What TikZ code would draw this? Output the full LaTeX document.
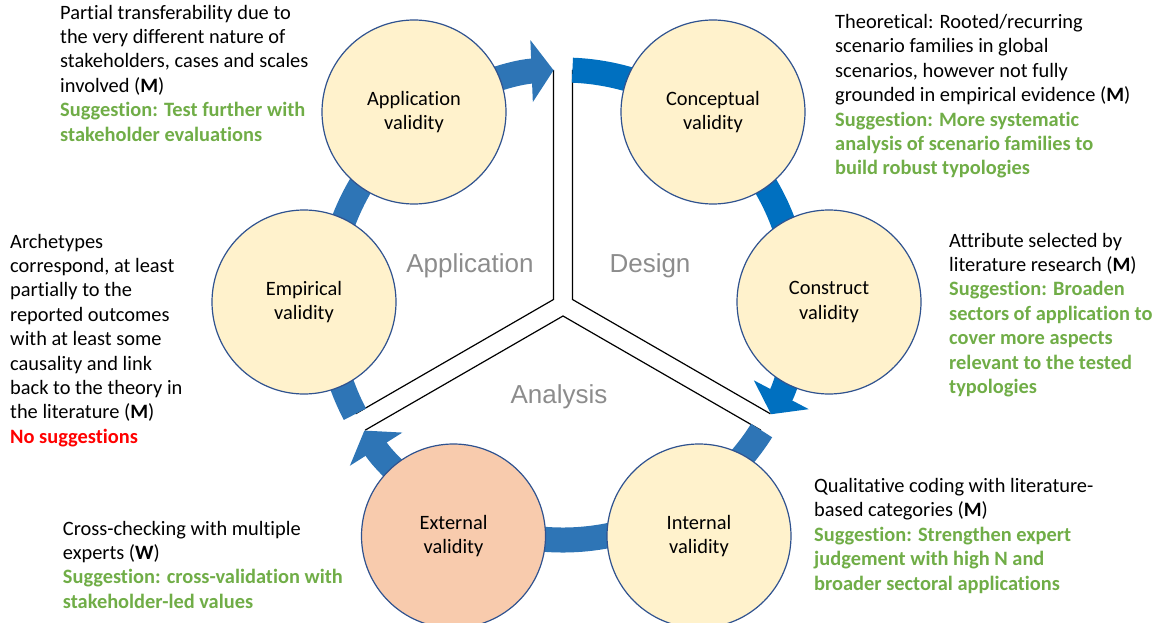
\documentclass[tikz,border=0pt]{standalone}
\usepackage{fontspec}
\setmainfont{Carlito}[Ligatures=NoCommon]
\newfontfamily\secfont{Liberation Sans}
\usetikzlibrary{arrows.meta}
\definecolor{anelA}{HTML}{2E75B6}
\definecolor{anelB}{HTML}{0070C0}
\definecolor{creme}{HTML}{FFF2CC}
\definecolor{salmao}{HTML}{F8CBAD}
\definecolor{contorno}{HTML}{2F528F}
\definecolor{verde}{HTML}{70AD47}
\definecolor{cinza}{HTML}{8C8C8C}
\newcommand{\sug}{\color{verde}\bfseries}
\tikzset{
  validade/.style={circle, draw=contorno, line width=1.2pt, fill=creme,
    minimum size=184pt, inner sep=0pt, align=center,
    font=\fontsize{20.4}{24.4}\selectfont},
  nota/.style={anchor=north west, inner sep=0pt, align=left,
    font=\fontsize{20.4}{24.4}\selectfont},
  setor/.style={anchor=base, text=cinza, font=\secfont\fontsize{26}{30}\selectfont},
  anel/.style={line width=25pt},
  ponta/.style={-{Triangle[width=61pt,length=22pt]}},
  braco/.style={line width=1.2pt, line join=miter},
}
\begin{document}
\begin{tikzpicture}[x=1pt,y=-1pt]
  \useasboundingbox (0,0) rectangle (1163,623);
  \coordinate (ring) at (563,305);                 % centro do anel
  % Y que separa os setores
  \begin{scope}[shift={(ring)}]
    \draw[braco] (-9.5,-235) -- (-9.5,-5.5) -- (-207.4,108.8);  % lado esquerdo
    \draw[braco] (9.5,-235) -- (9.5,-5.5) -- (207.4,108.8);     % lado direito
    \draw[braco] (-197.9,125.2) -- (0,11) -- (197.9,125.2);     % lado de baixo
  \end{scope}
  % anel em tres arcos com seta
  \draw[anel, anelB, ponta] (ring) ++(-87.7:235) arc[start angle=-87.7, end angle=27.7, radius=235];
  \draw[anel, anelA, ponta] (ring) ++(32.3:235) arc[start angle=32.3, end angle=147.7, radius=235];
  \draw[anel, anelA, ponta] (ring) ++(152.3:235) arc[start angle=152.3, end angle=267.7, radius=235];
  % circulos
  \node[validade] (aplic) at (414,112) {Application\\validity};
  \node[validade] (conc) at (713,112) {Conceptual\\validity};
  \node[validade] (constr) at (829,302) {Construct\\validity};
  \node[validade] (intern) at (699,536) {Internal\\validity};
  \node[validade, fill=salmao] (extern) at (453.5,536) {External\\validity};
  \node[validade] (empir) at (304,302) {Empirical\\validity};
  % nomes dos setores
  \node[setor] (s-aplic) at (470,272) {Application};
  \node[setor] (s-design) at (650,272) {Design};
  \node[setor] (s-anal) at (559,403) {Analysis};
  % comentarios
  \node[nota] (n-aplic) at (60,1.9) {\strut Partial transferability due to\\the very different nature of\\stakeholders, cases and scales\\involved (\textbf{M})\\
    {\sug Suggestion: Test further with}\\{\sug stakeholder evaluations}};
  \node[nota] (n-conc) at (835,11.2) {\strut Theoretical: Rooted/recurring\\scenario families in global\\scenarios, however not fully\\grounded in empirical evidence (\textbf{M})\\
    {\sug Suggestion: More systematic}\\{\sug analysis of scenario families to}\\{\sug build robust typologies}};
  \node[nota] (n-constr) at (949,229.9) {\strut Attribute selected by\\literature research (\textbf{M})\\
    {\sug Suggestion: Broaden}\\{\sug sectors of application to}\\{\sug cover more aspects}\\{\sug relevant to the tested}\\{\sug typologies}};
  \node[nota] (n-empir) at (10,230.9) {\strut Archetypes\\correspond, at least\\partially to the\\reported outcomes\\with at least some\\causality and link\\back to the theory in\\the literature (\textbf{M})\\
    {\color{red}\bfseries No suggestions}};
  \node[nota] (n-extern) at (62.7,517.9) {\strut Cross-checking with multiple\\experts (\textbf{W})\\
    {\sug Suggestion: cross-validation with}\\{\sug stakeholder-led values}};
  \node[nota] (n-intern) at (814,475.2) {\strut Qualitative coding with literature-\\based categories (\textbf{M})\\
    {\sug Suggestion: Strengthen expert}\\{\sug judgement with high N and}\\{\sug broader sectoral applications}};
\end{tikzpicture}
\end{document}
